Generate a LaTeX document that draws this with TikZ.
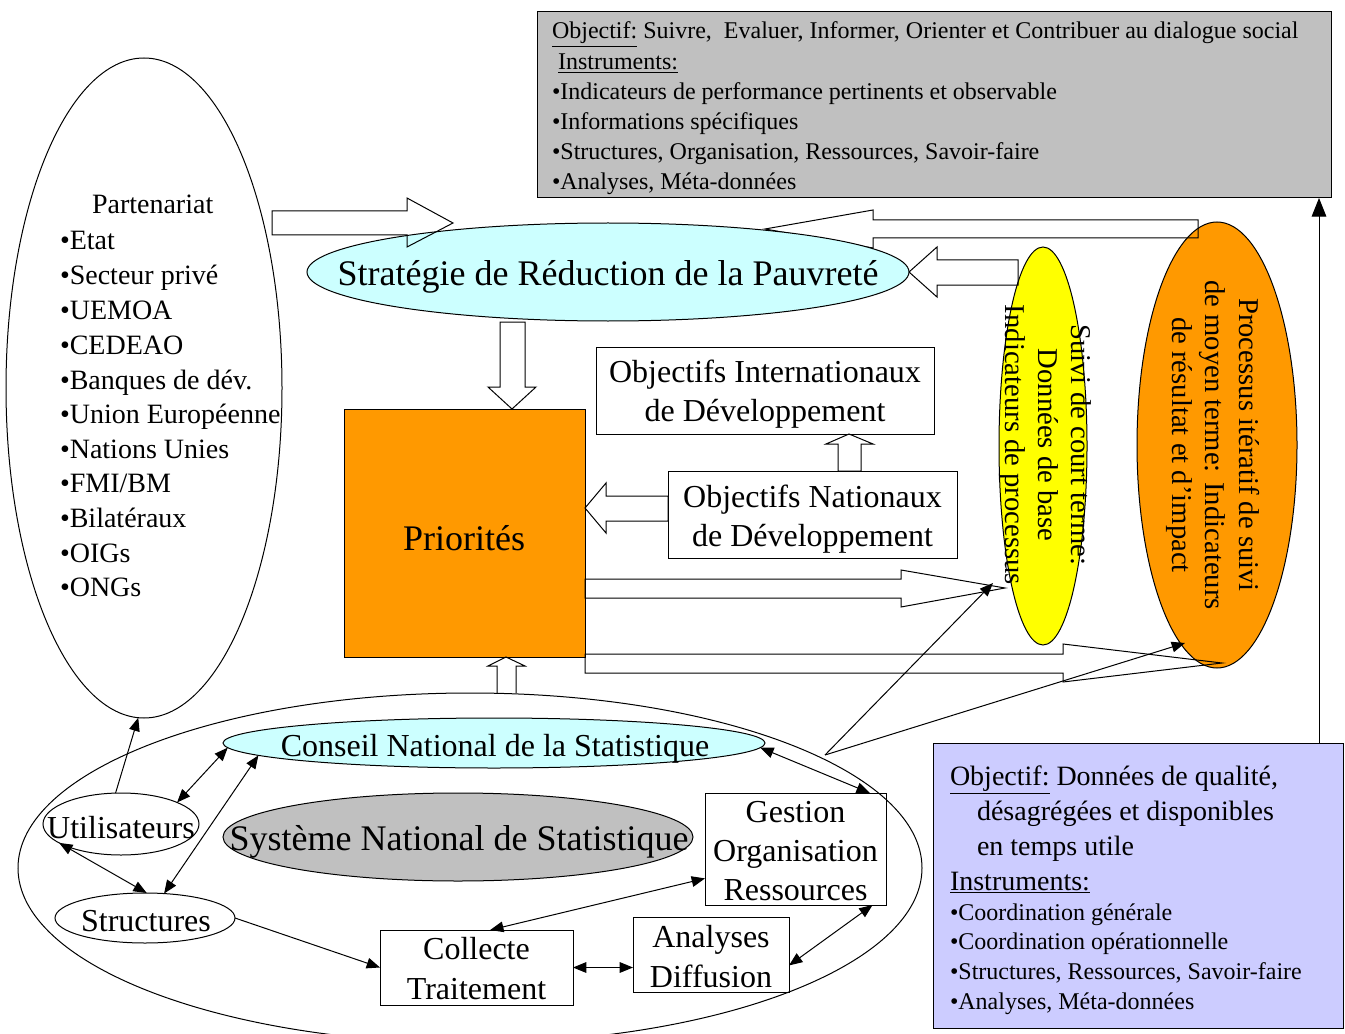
\documentclass[tikz,border=0pt]{standalone}
\usepackage{fontspec}
\setmainfont{Liberation Serif}
\usetikzlibrary{shapes.geometric,arrows.meta,calc}
\definecolor{srpcyan}{HTML}{CCFFFF}
\definecolor{prio}{HTML}{FF9900}
\definecolor{yel}{HTML}{FFFF00}
\definecolor{grayb}{HTML}{C0C0C0}
\definecolor{lav}{HTML}{CCCCFF}
\newcommand{\fsz}[2]{\fontsize{#1pt}{#2pt}\selectfont}
\begin{document}
\begin{tikzpicture}[x=0.75pt,y=-0.75pt,
  every node/.style={inner sep=0pt, outer sep=0pt},
  ell/.style={draw, ellipse, line width=0.75pt},
  box/.style={draw, rectangle, line width=0.75pt},
  blk/.style={draw, line width=0.75pt, line join=miter},
  con/.style={line width=0.75pt, -{Triangle[length=10pt,width=8pt]}},
  dcon/.style={line width=0.75pt, {Triangle[length=10pt,width=8pt]}-{Triangle[length=10pt,width=8pt]}},
  bigcon/.style={line width=0.75pt, -{Triangle[length=14pt,width=11pt]}},
  lbl/.style={font=\fsz{24}{29.25}, align=center},
  lst/.style={anchor=base west, font=\fsz{21}{26}},
  sml/.style={anchor=base west, font=\fsz{18}{22}},
]
\useasboundingbox (0,0) rectangle (1345,1034);

% big ellipses
\node (sns) [ell, minimum width=678pt, minimum height=262.5pt] at (470,868) {};
\node (part) [ell, minimum width=207pt, minimum height=495pt] at (144,388) {};
\node (orng) [ell, fill=prio, minimum width=120pt, minimum height=334.5pt] at (1217,445) {};
\node (yell) [ell, fill=yel, minimum width=66pt, minimum height=298.5pt] at (1043,446) {};
\node (orngt) [rotate=-90, align=center, font=\fsz{21.5}{25.1}] at (1213,445)
  {Processus itératif de suivi\\de moyen terme: Indicateurs\\de résultat et d’impact};
\node (yellt) [rotate=-90, align=center, font=\fsz{21.5}{24.75}] at (1045,445)
  {Suivi de court terme:\\Données de base\\Indicateurs de processus};

% block arrows into SRP (behind SRP)
\draw[blk] (1198,220) -- (873,220) -- (873,210) -- (765,229) -- (873,248) -- (873,238) -- (1198,238) -- cycle;
\draw[blk] (1018,260) -- (937,260) -- (937,247) -- (909,272) -- (937,297) -- (937,285) -- (1018,285) -- cycle;

% SRP
\node (srp) [ell, fill=srpcyan, minimum width=451.5pt, minimum height=73.5pt] at (608,272) {};
\node (srpt) [font=\fsz{27}{32}] at (608,277) {Stratégie de Réduction de la Pauvreté};
\draw[blk] (272,211) -- (407,211) -- (407,198) -- (453,223) -- (407,247) -- (407,235) -- (272,235) -- cycle;

% Partenariat list
\node (p0) [lst] at (92,214) {Partenariat};
\node (p1) [lst] at (60,250) {•Etat};
\node (p2) [lst] at (60,285) {•Secteur privé};
\node (p3) [lst] at (60,319) {•UEMOA};
\node (p4) [lst] at (60,354) {•CEDEAO};
\node (p5) [lst] at (60,389) {•Banques de dév.};
\node (p6) [lst] at (60,423) {•Union Européenne};
\node (p7) [lst] at (60,458) {•Nations Unies};
\node (p8) [lst] at (60,492) {•FMI/BM};
\node (p9) [lst] at (60,527) {•Bilatéraux};
\node (p10) [lst] at (60,562) {•OIGs};
\node (p11) [lst] at (60,596) {•ONGs};

% top grey box
\node (grayb) [box, fill=grayb, minimum width=595.5pt, minimum height=139.5pt] at (934,105) {};
\node (g1) [sml] at (552,39) {\underline{Objectif:} Suivre,\ \ Evaluer, Informer, Orienter et Contribuer au dialogue social};
\node (g2) [sml] at (558,70) {\underline{Instruments:}};
\node (g3) [sml] at (552,100) {•Indicateurs de performance pertinents et observable};
\node (g4) [sml] at (552,130) {•Informations spécifiques};
\node (g5) [sml] at (552,160) {•Structures, Organisation, Ressources, Savoir-faire};
\node (g6) [sml] at (552,190) {•Analyses, Méta-données};

% Priorites and objectives
\node (prio) [box, fill=prio, minimum width=180.75pt, minimum height=186pt] at (464.5,533) {};
\node (priot) [font=\fsz{27}{32}] at (464,538) {Priorités};
\node (oint) [box, minimum width=253.5pt, minimum height=65.25pt] at (765,390.5) {};
\node (ointt) [lbl] at (765,394.5) {Objectifs Internationaux\\de Développement};
\node (onat) [box, minimum width=216.75pt, minimum height=65.25pt] at (812.5,514.5) {};
\node (onatt) [lbl] at (812.5,519.5) {Objectifs Nationaux\\de Développement};

\draw[blk] (500,322) -- (525,322) -- (525,387) -- (536,387) -- (512,409) -- (488,387) -- (500,387) -- cycle;
\draw[blk] (668,496) -- (606,496) -- (606,483) -- (585,508) -- (606,533) -- (606,521) -- (668,521) -- cycle;
\draw[blk] (838,471) -- (838,444) -- (826,444) -- (849,434) -- (873,444) -- (861,444) -- (861,471) -- cycle;
\draw[blk] (497,693) -- (497,666) -- (488,666) -- (506,657) -- (525,666) -- (516,666) -- (516,693);
\draw[blk] (585,579) -- (901,579) -- (901,570) -- (1005,588) -- (901,607) -- (901,598) -- (585,598) -- cycle;
\draw[blk] (585,654) -- (1063,654) -- (1063,644) -- (1222,663) -- (1063,682) -- (1063,673) -- (585,673) -- cycle;

% bottom system
\node (cns) [ell, fill=srpcyan, minimum width=406.5pt, minimum height=37.5pt] at (494,743) {};
\node (cnst) [font=\fsz{24}{29}] at (495,749) {Conseil National de la Statistique};
\node (snsg) [ell, fill=grayb, minimum width=352.5pt, minimum height=66pt] at (458,837) {};
\node (snsgt) [font=\fsz{27}{32}] at (459,842) {Système National de Statistique};
\node (util) [ell, minimum width=117pt, minimum height=46.5pt] at (121,824) {};
\node (utilt) [font=\fsz{24}{29}] at (121,828) {Utilisateurs};
\node (struct) [ell, minimum width=135pt, minimum height=37.5pt] at (145,918) {};
\node (structt) [font=\fsz{24}{29}] at (146,921) {Structures};
\node (coll) [box, minimum width=144.75pt, minimum height=56.25pt] at (476.5,967.5) {};
\node (collt) [lbl, font=\fsz{24}{30}] at (476.5,968.5) {Collecte\\Traitement};
\node (anal) [box, minimum width=117pt, minimum height=56.25pt] at (711,954.5) {};
\node (analt) [lbl, font=\fsz{24}{30}] at (711,956.5) {Analyses\\Diffusion};
\node (gest) [box, minimum width=135.75pt, minimum height=84pt] at (795.5,849) {};
\node (gestt) [lbl] at (795.5,851) {Gestion\\Organisation\\Ressources};

% blue box
\node (blue) [box, fill=lav, minimum width=307.5pt, minimum height=213.75pt] at (1138,885.5) {};
\node (b1) [lst] at (950,785) {\underline{Objectif:} Données de qualité,};
\node (b2) [lst] at (977,820) {désagrégées et disponibles};
\node (b3) [lst] at (977,855) {en temps utile};
\node (b4) [lst] at (950,890) {\underline{Instruments:}};
\node (b5) [sml] at (950,920) {•Coordination générale};
\node (b6) [sml] at (950,949) {•Coordination opérationnelle};
\node (b7) [sml] at (950,979) {•Structures, Ressources, Savoir-faire};
\node (b8) [sml] at (950,1009) {•Analyses, Méta-données};

% connectors
\draw[con] (util.100) -- (part.269);
\draw[dcon] (cns.181) -- (util.21);
\draw[dcon] (cns.183.5) -- (struct.52);
\draw[dcon] (util.197) -- (struct.86);
\draw[con] (struct.east) -- (coll.west);
\draw[dcon] (coll.70) -- (gest.198);
\draw[dcon] (coll.east) -- (coll.east -| anal.west);
\draw[dcon] (anal.352) -- (gest.324);
\draw[dcon] (cns.359) -- (gest.37);
\coordinate (fp) at (825,755);
\coordinate (ytip) at (993,583);
\coordinate (otip) at (1185,643);
\draw[con] (fp) -- (ytip);
\draw[con] (fp) -- (otip);
\coordinate (vup) at (1319,743);
\draw[bigcon] (vup) -- (vup |- grayb.south);
\end{tikzpicture}
\end{document}
